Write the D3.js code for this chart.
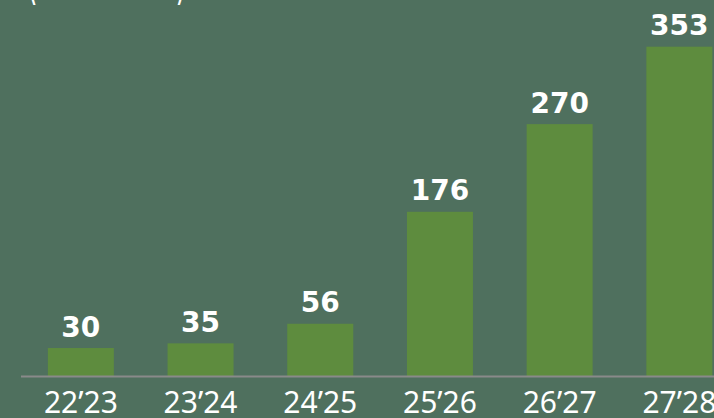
<!DOCTYPE html>
<html><head><meta charset="utf-8">
<script src="https://cdn.jsdelivr.net/npm/d3@7"></script>
<style>html,body{margin:0;padding:0;background:#4f705e;overflow:hidden}</style>
</head><body>
<svg id="c" width="714" height="418"></svg>
<script>
const categories = ["22\u201923","23\u201924","24\u201925","25\u201926","26\u201927","27\u201928"];
const values = [30, 35, 56, 176, 270, 353];
const unitLabel = "(Units: MW)";

const svg = d3.select("#c");
svg.append("rect").attr("width",714).attr("height",418).attr("fill","#4f705e");

const x = d3.scaleBand().domain(categories).range([21, 21 + 6*119.7]).paddingInner(0.4486).paddingOuter(0.2243);
const y = d3.scaleLinear().domain([0, 353]).range([376, 46.7]);

svg.append("text").text(unitLabel)
  .attr("x", 27).attr("y", -1.5)
  .attr("textLength", 159).attr("lengthAdjust","spacingAndGlyphs")
  .attr("font-family","DejaVu Sans").attr("font-size",48).attr("fill","#ffffff");

svg.selectAll("rect.bar").data(values).join("rect").attr("class","bar")
  .attr("x",(d,i)=>x(categories[i])).attr("width",x.bandwidth())
  .attr("y",d=>y(d)).attr("height",d=>y(0)-y(d)).attr("fill","#5e8c3e");

svg.append("line").attr("x1",21).attr("x2",714).attr("y1",y(0)+0.5).attr("y2",y(0)+0.5)
  .attr("stroke","#8a8a8a").attr("stroke-width",2);

svg.selectAll("text.val").data(values).join("text").attr("class","val")
  .attr("x",(d,i)=>x(categories[i])+x.bandwidth()/2).attr("y",d=>y(d)-11.5)
  .attr("text-anchor","middle").attr("font-family","DejaVu Sans").attr("font-weight","bold")
  .attr("font-size",28).attr("fill","#ffffff").text(d=>d);

const ax = svg.append("g").attr("transform","translate(0,"+y(0)+")")
  .call(d3.axisBottom(x).tickSize(0).tickPadding(0));
ax.select(".domain").remove();
ax.selectAll("text").attr("dy",0).attr("y",37).attr("font-family","Noto Sans").attr("font-size",30).attr("fill","#ffffff");
</script>
</body></html>
